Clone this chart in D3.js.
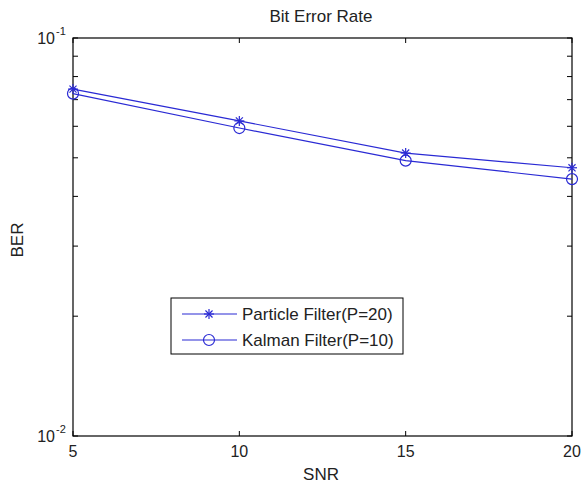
<!DOCTYPE html>
<meta charset="utf-8">
<head>
  <title>Bit Error Rate</title>
</head>

<style>
body {
  margin: 0;
  background: #fff;
}
svg text {
  font-family: "Liberation Sans", Arial, sans-serif;
  fill: #222;
}
</style>

<body>
  <svg width="581" height="483"></svg>

  <script src="https://cdnjs.cloudflare.com/ajax/libs/d3/7.8.5/d3.min.js"></script>

  <script>
var snr = [5, 10, 15, 20]
var particleBer = [0.0744, 0.0619, 0.0514, 0.0472]
var kalmanBer = [0.0725, 0.0594, 0.0492, 0.0442]
var xTicks = [5, 10, 15, 20]
var yMajor = [0.01, 0.1]
var yMinor = [0.02, 0.03, 0.04, 0.05, 0.06, 0.07, 0.08, 0.09]
var seriesNames = ['Particle Filter(P=20)', 'Kalman Filter(P=10)']

var svg = d3.select('svg')
var blue = '#2a2ad4'

var plotLeft = 73, plotRight = 572, plotTop = 38, plotBottom = 436

var x = d3.scaleLinear().domain([5, 20]).range([plotLeft, plotRight])
var y = d3.scaleLog().domain([0.01, 0.1]).range([plotBottom, plotTop])

// box
svg.append('rect')
  .attr('x', plotLeft).attr('y', plotTop)
  .attr('width', plotRight - plotLeft).attr('height', plotBottom - plotTop)
  .attr('fill', 'none').attr('stroke', '#000').attr('stroke-width', 1.2)

// ticks, pointing inwards on all four sides
var tickLen = 5
xTicks.forEach(function(d) {
  svg.append('line').attr('x1', x(d)).attr('x2', x(d))
    .attr('y1', plotBottom).attr('y2', plotBottom - tickLen).attr('stroke', '#000')
  svg.append('line').attr('x1', x(d)).attr('x2', x(d))
    .attr('y1', plotTop).attr('y2', plotTop + tickLen).attr('stroke', '#000')
  svg.append('text').attr('x', x(d)).attr('y', 457)
    .attr('text-anchor', 'middle').attr('font-size', 16).text(d)
})

yMinor.concat(yMajor).forEach(function(d) {
  svg.append('line').attr('x1', plotLeft).attr('x2', plotLeft + tickLen)
    .attr('y1', y(d)).attr('y2', y(d)).attr('stroke', '#000')
  svg.append('line').attr('x1', plotRight).attr('x2', plotRight - tickLen)
    .attr('y1', y(d)).attr('y2', y(d)).attr('stroke', '#000')
})

yMajor.forEach(function(d) {
  svg.append('text').attr('x', 55).attr('y', y(d) + 6)
    .attr('text-anchor', 'end').attr('font-size', 16).text('10')
  svg.append('text').attr('x', 56).attr('y', y(d) - 3)
    .attr('font-size', 11).text(String(Math.round(Math.log10(d))))
})

// labels
svg.append('text').attr('x', 321).attr('y', 22)
  .attr('text-anchor', 'middle').attr('font-size', 17).text('Bit Error Rate')
svg.append('text').attr('x', 321).attr('y', 480)
  .attr('text-anchor', 'middle').attr('font-size', 17).text('SNR')
svg.append('text')
  .attr('transform', 'translate(23,240) rotate(-90)')
  .attr('text-anchor', 'middle').attr('font-size', 17).text('BER')

var line = d3.line()
  .x(function(d, i) { return x(snr[i]) })
  .y(function(d) { return y(d) })

function star(g, cx, cy, r) {
  [0, 45, 90, 135].forEach(function(a) {
    var rad = a * Math.PI / 180
    g.append('line')
      .attr('x1', cx - r * Math.cos(rad)).attr('y1', cy - r * Math.sin(rad))
      .attr('x2', cx + r * Math.cos(rad)).attr('y2', cy + r * Math.sin(rad))
      .attr('stroke', blue).attr('stroke-width', 1.2)
  })
}

function circle(g, cx, cy, r) {
  g.append('circle').attr('cx', cx).attr('cy', cy).attr('r', r)
    .attr('fill', 'none').attr('stroke', blue).attr('stroke-width', 1.2)
}

var g = svg.append('g')

g.append('path').datum(particleBer).attr('d', line)
  .attr('fill', 'none').attr('stroke', blue).attr('stroke-width', 1.2)
g.append('path').datum(kalmanBer).attr('d', line)
  .attr('fill', 'none').attr('stroke', blue).attr('stroke-width', 1.2)

particleBer.forEach(function(d, i) { star(g, x(snr[i]), y(d), 5) })
kalmanBer.forEach(function(d, i) { circle(g, x(snr[i]), y(d), 5.5) })

// legend
var lg = svg.append('g')
lg.append('rect').attr('x', 171).attr('y', 298).attr('width', 232).attr('height', 56)
  .attr('fill', '#fff').attr('stroke', '#000').attr('stroke-width', 1)

var rows = [314, 340]
seriesNames.forEach(function(name, i) {
  var ry = rows[i]
  lg.append('line').attr('x1', 182).attr('x2', 237).attr('y1', ry).attr('y2', ry)
    .attr('stroke', blue).attr('stroke-width', 1.2)
  if (i === 0) star(lg, 209, ry, 5)
  else circle(lg, 209, ry, 5.5)
  lg.append('text').attr('x', 242).attr('y', ry + 6)
    .attr('font-size', 17).text(name)
})
  </script>
</body>
</html>
